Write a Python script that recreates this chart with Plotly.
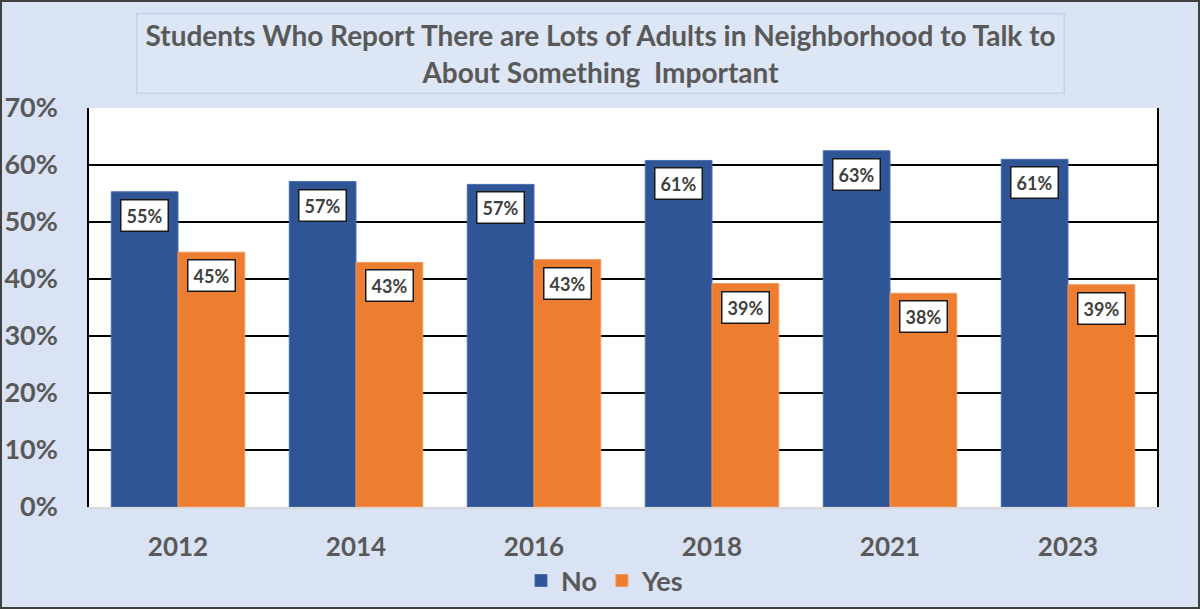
import plotly.graph_objects as go

years = ["2012", "2014", "2016", "2018", "2021", "2023"]
no_vals = [55.3, 57.1, 56.6, 60.8, 62.5, 61.0]
yes_vals = [44.7, 42.9, 43.4, 39.2, 37.5, 39.0]
no_labels = ["55%", "57%", "57%", "61%", "63%", "61%"]
yes_labels = ["45%", "43%", "43%", "39%", "38%", "39%"]
y_ticks = [0, 10, 20, 30, 40, 50, 60, 70]
y_ticktext = ["0%", "10%", "20%", "30%", "40%", "50%", "60%", "70%"]
title_text = ("Students Who Report There are Lots of Adults in Neighborhood to Talk to"
              "<br>About Something  Important")

BLUE = "#2f5597"
ORANGE = "#ed7d31"
BG = "#dae3f3"
GREY = "#595959"
FONT = "Lato"

W, H = 1200, 609
ML, MR, MT, MB = 89, 43, 108, 102
plot_w = W - ML - MR
plot_h = H - MT - MB

fig = go.Figure()
fig.add_trace(go.Bar(name="No", x=years, y=no_vals,
                     marker=dict(color=BLUE, line=dict(width=1, color="#4a6db0"))))
fig.add_trace(go.Bar(name="Yes", x=years, y=yes_vals,
                     marker=dict(color=ORANGE, line=dict(width=1, color="#f3985a"))))

annos = []
cat_w = plot_w / len(years)
bargap = 0.25
bar_px = cat_w * (1 - bargap) / 2
for i, yr in enumerate(years):
    for val, lab, sh in ((no_vals[i], no_labels[i], -bar_px / 2), (yes_vals[i], yes_labels[i], bar_px / 2)):
        annos.append(dict(
            x=i, y=val, xref="x", yref="y", text=lab, showarrow=False,
            xshift=sh, yshift=-7, yanchor="top", xanchor="center",
            font=dict(family=FONT, size=18, color="#404040", weight="bold"),
            bgcolor="white", bordercolor="#1a1a1a", borderwidth=1.5, borderpad=3,
            width=40, height=24,
        ))

annos.append(dict(
    x=(600 - ML) / plot_w, y=1 + (MT - 53.5) / plot_h, xref="paper", yref="paper",
    text=title_text, showarrow=False, xanchor="center", yanchor="middle",
    font=dict(family=FONT, size=28, color=GREY, weight="bold"),
    bgcolor="#dde6f5", bordercolor="#c3d1ea", borderwidth=1.5, borderpad=5,
    width=916, height=68,
))

fig.update_layout(
    width=W, height=H,
    margin=dict(l=ML, r=MR, t=MT, b=MB, autoexpand=False),
    paper_bgcolor=BG, plot_bgcolor="white",
    barmode="group", bargap=bargap, bargroupgap=0,
    font=dict(family=FONT, color=GREY),
    showlegend=True,
    legend=dict(orientation="h", x=(605 - ML) / plot_w, xanchor="center", yref="container",
                y=1 - 581 / H, yanchor="middle",
                font=dict(family=FONT, size=27, color=GREY, weight="bold"),
                bgcolor="rgba(0,0,0,0)"),
    annotations=annos,
    shapes=[dict(type="rect", xref="paper", yref="paper",
                 x0=-(ML - 1) / plot_w, x1=1 + (MR - 1) / plot_w,
                 y0=-(MB - 1) / plot_h, y1=1 + (MT - 1) / plot_h,
                 line=dict(color="#404040", width=2), layer="below")],
)
fig.update_yaxes(range=[0, 70], tickvals=y_ticks, ticktext=y_ticktext,
                 showgrid=True, gridcolor="black", gridwidth=1.5,
                 showline=True, linecolor="black", linewidth=1.5, mirror=True,
                 zeroline=False, ticks="", ticklabelstandoff=24,
                 tickfont=dict(family=FONT, size=27, color=GREY, weight="bold"))
fig.update_xaxes(type="category", categoryorder="array", categoryarray=years,
                 range=[-0.5, len(years) - 0.5], autorange=False,
                 showline=True, linecolor="#d9d9d9", linewidth=2,
                 ticks="", ticklabelstandoff=16, showgrid=False,
                 tickfont=dict(family=FONT, size=26, color=GREY, weight="bold"))

fig.write_html("out.html", config={"displayModeBar": False},
               post_script="document.body.style.margin='0';document.body.style.overflow='hidden';")
